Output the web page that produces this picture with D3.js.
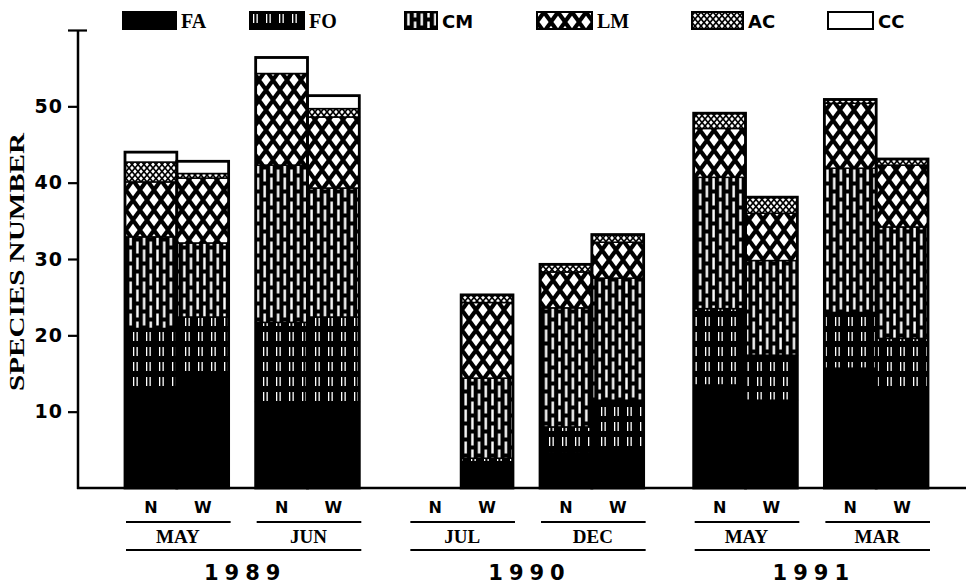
<!DOCTYPE html>
<html lang="en">
<head>
<meta charset="UTF-8">
<title>Species number by group</title>
<script src="https://d3js.org/d3.v7.min.js"></script>
<style>
  html, body { margin: 0; padding: 0; background: #fff; }
  svg { display: block; }
  .serif { font-family: "Liberation Serif", "DejaVu Serif", serif; font-weight: bold; }
  .sans { font-family: "DejaVu Sans", "Liberation Sans", sans-serif; font-weight: bold; }
</style>
</head>
<body>
<svg id="chart" width="969" height="584"></svg>
<script>
// species groups (stack order, bottom to top)
const groups = ["FA", "FO", "CM", "LM", "AC", "CC"];

// one entry per bar
const years  = ["1989", "1989", "1989", "1989", "1990", "1990", "1990", "1990", "1991", "1991", "1991", "1991"];
const months = ["MAY", "MAY", "JUN", "JUN", "JUL", "JUL", "DEC", "DEC", "MAY", "MAY", "MAR", "MAR"];
const sites  = ["N", "W", "N", "W", "N", "W", "N", "W", "N", "W", "N", "W"];

// species number per group
const FA = [13.2, 15.0, 11.3, 11.3, 0, 3.4, 4.7, 5.4, 13.5, 11.5, 15.7, 12.8];
const FO = [7.7, 7.4, 10.4, 11.1, 0, 0.5, 3.3, 6.1, 10.0, 5.9, 7.3, 6.8];
const CM = [12.0, 9.7, 20.6, 16.9, 0, 10.5, 15.6, 16.0, 17.2, 12.4, 18.9, 14.6];
const LM = [7.2, 8.5, 12.0, 9.3, 0, 9.9, 4.7, 4.7, 6.4, 6.2, 8.5, 8.1];
const AC = [2.6, 0.6, 0, 1.1, 0, 1.0, 1.0, 1.0, 2.0, 2.1, 0.5, 0.8];
const CC = [1.3, 1.6, 2.1, 1.7, 0, 0, 0, 0, 0, 0, 0, 0];

const yTicks = [10, 20, 30, 40, 50, 60];

const values = { FA, FO, CM, LM, AC, CC };
const rows = years.map((yr, i) => {
    const r = { year: yr, month: months[i], site: sites[i] };
    groups.forEach(g => r[g] = values[g][i]);
    return r;
});

const svg = d3.select("#chart");

// ---- patterns ----
const defs = svg.append("defs");

function pat(id, w, h) {
    return defs.append("pattern").attr("id", id)
        .attr("patternUnits", "userSpaceOnUse")
        .attr("width", w).attr("height", h);
}

pat("p-FA", 8, 8).append("rect").attr("width", 8).attr("height", 8).attr("fill", "#000");

// FO: sparse pairs of thin white dashes
let p = pat("p-FO", 13, 15);
p.append("rect").attr("width", 13).attr("height", 15).attr("fill", "#000");
p.append("rect").attr("x", 3).attr("y", 2).attr("width", 1.3).attr("height", 9).attr("fill", "#fff");
p.append("rect").attr("x", 6.5).attr("y", 2).attr("width", 1.3).attr("height", 9).attr("fill", "#fff");

// CM: staggered white bricks
p = pat("p-CM", 13.4, 16);
p.append("rect").attr("width", 13.4).attr("height", 16).attr("fill", "#000");
[[2.2, 1.5], [8.9, -6.5], [8.9, 9.5]].forEach(([x, y]) =>
    p.append("rect").attr("x", x).attr("y", y).attr("width", 2.4).attr("height", 12).attr("fill", "#fff"));

// diamond crosshatch
function diamonds(id, w, h, hw, hh) {
    const q = pat(id, w, h);
    q.append("rect").attr("width", w).attr("height", h).attr("fill", "#000");
    [[w / 2, h / 2], [0, 0], [w, 0], [0, h], [w, h]].forEach(([cx, cy]) =>
        q.append("polygon")
            .attr("points", [[cx - hw, cy], [cx, cy - hh], [cx + hw, cy], [cx, cy + hh]].join(" "))
            .attr("fill", "#fff"));
}
diamonds("p-LM", 14, 20, 4.6, 6.3);
diamonds("p-AC", 6, 7, 1.9, 2.2);

pat("p-CC", 8, 8).append("rect").attr("width", 8).attr("height", 8).attr("fill", "#fff");

// ---- scales ----
const y = d3.scaleLinear().domain([0, 60]).range([488, 30]);

const yearList = Array.from(new Set(years));
const xYear = d3.scaleBand().domain(yearList).range([125, 928]).paddingInner(0.176);
const xMonth = {};
yearList.forEach(yr => {
    const ms = Array.from(new Set(rows.filter(r => r.year === yr).map(r => r.month)));
    xMonth[yr] = d3.scaleBand().domain(ms).range([0, xYear.bandwidth()]).paddingInner(0.207);
});
const xSite = d3.scaleBand().domain(["N", "W"]).range([0, xMonth[yearList[0]].bandwidth()]);

const monthX = r => xYear(r.year) + xMonth[r.year](r.month);
const barX = r => monthX(r) + xSite(r.site);

// ---- bars ----
const stack = d3.stack().keys(groups)(rows);

const gBars = svg.append("g");
stack.forEach(layer => {
    gBars.append("g").selectAll("rect")
        .data(layer.filter(d => d[1] - d[0] > 0))
        .join("rect")
        .attr("x", d => barX(d.data))
        .attr("width", xSite.bandwidth())
        .attr("y", d => y(d[1]))
        .attr("height", d => y(d[0]) - y(d[1]))
        .attr("fill", `url(#p-${layer.key})`)
        .attr("stroke", "#000")
        .attr("stroke-width", 1.5);
});

// outer outline of each bar
gBars.append("g").selectAll("rect")
    .data(rows.filter(r => d3.sum(groups, g => r[g]) > 0))
    .join("rect")
    .attr("x", d => barX(d))
    .attr("width", xSite.bandwidth())
    .attr("y", d => y(d3.sum(groups, g => d[g])))
    .attr("height", d => y(0) - y(d3.sum(groups, g => d[g])))
    .attr("fill", "none")
    .attr("stroke", "#000")
    .attr("stroke-width", 2.8);

// ---- y axis ----
const yAxis = svg.append("g")
    .attr("transform", "translate(78,0)")
    .call(d3.axisLeft(y).tickValues(yTicks).tickSize(10).tickPadding(5)
        .tickFormat(d => d === 60 ? "" : d));
yAxis.select(".domain").remove();
yAxis.selectAll(".tick line").attr("stroke", "#000").attr("stroke-width", 2.2);
yAxis.selectAll(".tick").filter(d => d === 60).select("line").attr("x1", 9);
yAxis.selectAll(".tick text")
    .attr("class", "sans")
    .attr("font-size", 19)
    .attr("letter-spacing", 1)
    .attr("fill", "#000");

svg.append("line")
    .attr("x1", 78).attr("x2", 78)
    .attr("y1", y(60)).attr("y2", y(0) + 1)
    .attr("stroke", "#000").attr("stroke-width", 2.5);

// x baseline
svg.append("line")
    .attr("x1", 77).attr("x2", 966)
    .attr("y1", y(0)).attr("y2", y(0))
    .attr("stroke", "#000").attr("stroke-width", 2.5);

svg.append("text")
    .attr("class", "serif")
    .attr("transform", "translate(24,262) rotate(-90)")
    .attr("text-anchor", "middle")
    .attr("font-size", 20)
    .attr("textLength", 258)
    .attr("lengthAdjust", "spacingAndGlyphs")
    .text("SPECIES NUMBER");

// ---- x labels ----
const gX = svg.append("g");
gX.selectAll("text.site")
    .data(rows)
    .join("text")
    .attr("class", "sans site")
    .attr("x", d => barX(d) + xSite.bandwidth() / 2)
    .attr("y", 513)
    .attr("text-anchor", "middle")
    .attr("font-size", 16)
    .text(d => d.site);

const monthRows = rows.filter(r => r.site === "N");
gX.selectAll("line.month")
    .data(monthRows)
    .join("line")
    .attr("x1", d => monthX(d) + 1)
    .attr("x2", d => monthX(d) + xMonth[d.year].bandwidth() + 2)
    .attr("y1", 522).attr("y2", 522)
    .attr("stroke", "#000").attr("stroke-width", 2);

gX.selectAll("text.month")
    .data(monthRows)
    .join("text")
    .attr("class", "serif month")
    .attr("x", d => monthX(d) + xMonth[d.year].bandwidth() / 2 + 1)
    .attr("y", 543)
    .attr("text-anchor", "middle")
    .attr("font-size", 19)
    .text(d => d.month);

gX.selectAll("line.year")
    .data(yearList)
    .join("line")
    .attr("x1", d => xYear(d) + 1)
    .attr("x2", d => xYear(d) + xYear.bandwidth() + 2)
    .attr("y1", 550).attr("y2", 550)
    .attr("stroke", "#000").attr("stroke-width", 2);

gX.selectAll("text.year")
    .data(yearList)
    .join("text")
    .attr("class", "sans year")
    .attr("x", d => xYear(d) + xYear.bandwidth() / 2 + 3)
    .attr("y", 580)
    .attr("text-anchor", "middle")
    .attr("font-size", 21)
    .attr("letter-spacing", 6)
    .text(d => d);

// ---- legend ----
const legendX = [123, 250, 405, 537, 692, 828];
const legendW = [53, 54, 32, 55, 51, 45];
const legendFont = ["serif", "serif", "sans", "serif", "sans", "sans"];
const legend = svg.append("g").selectAll("g")
    .data(groups)
    .join("g")
    .attr("transform", (d, i) => `translate(${legendX[i]},12)`);
legend.append("rect")
    .attr("width", (d, i) => legendW[i])
    .attr("height", 17)
    .attr("fill", d => `url(#p-${d})`)
    .attr("stroke", "#000")
    .attr("stroke-width", 2);
legend.append("text")
    .attr("class", (d, i) => legendFont[i])
    .attr("x", (d, i) => legendW[i] + 5)
    .attr("y", 16)
    .attr("font-size", (d, i) => legendFont[i] === "serif" ? 20 : 18)
    .text(d => d);
</script>
</body>
</html>
